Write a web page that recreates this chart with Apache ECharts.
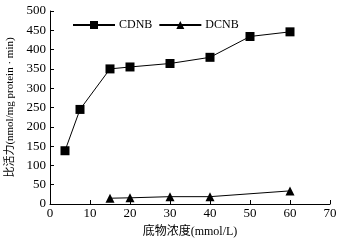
<!DOCTYPE html>
<html>
<head>
<meta charset="utf-8">
<script src="https://cdn.jsdelivr.net/npm/echarts@6/dist/echarts.min.js"></script>
<style>
  html, body { margin: 0; padding: 0; background: #fff; }
  #chart { width: 348px; height: 241px; }
</style>
</head>
<body>
<div id="chart"></div>
<script>
// 底物浓度 (mmol/L)
var cdnbX = [3.75, 7.5, 15, 20, 30, 40, 50, 60];
var cdnbY = [138, 245, 350, 355, 364, 380, 434, 446];
var dcnbX = [15, 20, 30, 40, 60];
var dcnbY = [15, 16, 19, 19, 34];

var font = "'Liberation Serif', 'Noto Sans CJK SC', serif";

function pairs(xs, ys) {
  var out = [];
  for (var i = 0; i < xs.length; i++) out.push([xs[i], ys[i]]);
  return out;
}

var chart = echarts.init(document.getElementById("chart"));
var option = {
  animation: false,
  textStyle: { fontFamily: font, color: "#000" },
  grid: { left: 50, right: 18, top: 11, bottom: 37, containLabel: false, outerBoundsMode: "none" },
  legend: {
    top: 14,
    left: 67,
    itemGap: 6,
    itemWidth: 42,
    itemHeight: 10,
    textStyle: { fontFamily: font, fontSize: 12, color: "#000", padding: [0, 0, 0, -1] },
    data: ["CDNB", "DCNB"]
  },
  xAxis: {
    type: "value",
    min: 0,
    max: 70,
    interval: 10,
    name: "底物浓度(mmol/L)",
    nameLocation: "middle",
    nameGap: 22,
    nameTextStyle: { fontFamily: font, fontSize: 12, color: "#000" },
    axisLine: { lineStyle: { color: "#000", width: 1 } },
    axisTick: { inside: true, length: 4, lineStyle: { color: "#000" } },
    axisLabel: { fontFamily: font, fontSize: 13, color: "#000", margin: 3 },
    splitLine: { show: false }
  },
  yAxis: {
    type: "value",
    min: 0,
    max: 500,
    interval: 50,
    name: "比活力(nmol/mg protein · min)",
    nameLocation: "middle",
    nameGap: 33,
    nameTextStyle: { fontFamily: font, fontSize: 11, color: "#000" },
    axisLine: { show: true, lineStyle: { color: "#000", width: 1 } },
    axisTick: { show: true, inside: true, length: 4, lineStyle: { color: "#000" } },
    axisLabel: { fontFamily: font, fontSize: 13, color: "#000", margin: 4 },
    splitLine: { show: false }
  },
  series: [
    {
      name: "CDNB",
      type: "line",
      symbol: "rect",
      symbolSize: 9,
      itemStyle: { color: "#000" },
      lineStyle: { color: "#000", width: 1 },
      data: pairs(cdnbX, cdnbY)
    },
    {
      name: "DCNB",
      type: "line",
      symbol: "triangle",
      symbolSize: 9,
      itemStyle: { color: "#000" },
      lineStyle: { color: "#000", width: 1 },
      data: pairs(dcnbX, dcnbY)
    }
  ]
};
chart.setOption(option);
</script>
</body>
</html>
